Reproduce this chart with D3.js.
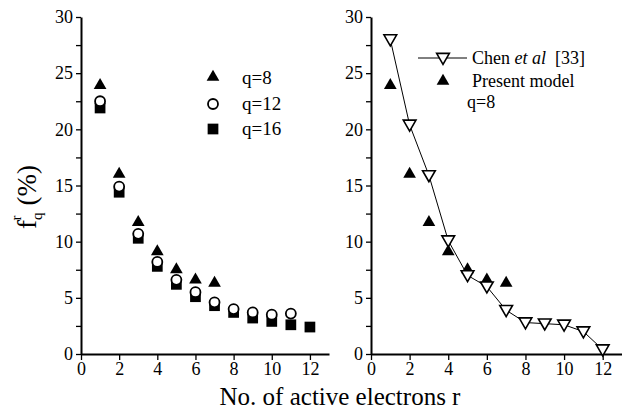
<!DOCTYPE html>
<html>
<head>
<meta charset="utf-8">
<script src="https://cdn.jsdelivr.net/npm/d3@7"></script>
<style>
  body { margin: 0; background: #fff; }
  svg { display: block; }
</style>
</head>
<body>
<svg id="chart" width="622" height="414" font-family="Liberation Serif, serif"></svg>
<script>
// values
var r8 = [1, 2, 3, 4, 5, 6, 7]
var q8 = [24.0, 16.1, 11.8, 9.2, 7.6, 6.7, 6.4]
var r12 = [1, 2, 3, 4, 5, 6, 7, 8, 9, 10, 11]
var q12 = [22.5, 14.9, 10.7, 8.2, 6.6, 5.5, 4.6, 4.0, 3.7, 3.5, 3.6]
var r16 = [1, 2, 3, 4, 5, 6, 7, 8, 9, 10, 11, 12]
var q16 = [21.9, 14.4, 10.3, 7.8, 6.2, 5.1, 4.3, 3.7, 3.2, 2.9, 2.6, 2.4]
var rChen = [1, 2, 3, 4, 5, 6, 7, 8, 9, 10, 11, 12]
var chen = [28.0, 20.4, 15.9, 10.1, 7.0, 6.0, 3.9, 2.8, 2.7, 2.6, 2.0, 0.4]
var xTicks = [0, 2, 4, 6, 8, 10, 12]
var yTicks = [0, 5, 10, 15, 20, 25, 30]

var FONT = "Liberation Serif, serif"
var svg = d3.select("#chart")

var y = d3.scaleLinear().domain([0, 30]).range([354, 17])
var xL = d3.scaleLinear().domain([0, 13]).range([81, 329])
var xR = d3.scaleLinear().domain([0, 13]).range([371, 622])

var tri = d3.symbol().type(d3.symbolTriangle).size(70)
var sq = d3.symbol().type(d3.symbolSquare).size(115)

function zip(xs, ys) { return xs.map((v, i) => [v, ys[i]]) }

function drawAxes(x) {
  var g = svg.append("g")
  // y axis
  g.append("g")
    .attr("transform", `translate(${x(0)},0)`)
    .call(d3.axisLeft(y).tickValues(yTicks).tickSize(5).tickSizeOuter(0).tickPadding(3))
    .attr("font-family", FONT).attr("font-size", 18)
    .call(a => a.select(".domain").attr("stroke-width", 2))
  // minor y ticks
  g.append("g")
    .attr("transform", `translate(${x(0)},0)`)
    .call(d3.axisLeft(y).tickValues(d3.range(2.5, 30, 5)).tickSize(5).tickFormat(""))
    .call(a => a.select(".domain").remove())
  // x axis
  g.append("g")
    .attr("transform", `translate(0,${y(0)})`)
    .call(d3.axisBottom(x).tickValues(xTicks).tickSize(6).tickSizeOuter(0).tickPadding(2))
    .attr("font-family", FONT).attr("font-size", 18)
    .call(a => a.select(".domain").attr("stroke-width", 2))
  g.selectAll(".tick line").attr("stroke-width", 1.3)
}

drawAxes(xL)
drawAxes(xR)

// left panel
svg.append("g").selectAll("path").data(zip(r16, q16)).join("path")
  .attr("transform", d => `translate(${xL(d[0])},${y(d[1])})`)
  .attr("d", sq()).attr("fill", "#000")
svg.append("g").selectAll("circle").data(zip(r12, q12)).join("circle")
  .attr("cx", d => xL(d[0])).attr("cy", d => y(d[1])).attr("r", 5)
  .attr("fill", "#fff").attr("stroke", "#000").attr("stroke-width", 1.8)
svg.append("g").selectAll("path").data(zip(r8, q8)).join("path")
  .attr("transform", d => `translate(${xL(d[0])},${y(d[1]) + 1})`)
  .attr("d", tri()).attr("fill", "#000")

// left legend
var legL = svg.append("g")
legL.append("path").attr("transform", "translate(213,77)").attr("d", tri()).attr("fill", "#000")
legL.append("circle").attr("cx", 213).attr("cy", 104).attr("r", 5)
  .attr("fill", "#fff").attr("stroke", "#000").attr("stroke-width", 1.8)
legL.append("path").attr("transform", "translate(213,129)").attr("d", sq()).attr("fill", "#000")
legL.selectAll("text").data(["q=8", "q=12", "q=16"]).join("text")
  .attr("x", 242).attr("y", (d, i) => 84 + i * 25.5)
  .attr("font-size", 19).text(d => d)

// right panel
var line = d3.line().x(d => xR(d[0])).y(d => y(d[1]))
svg.append("path").datum(zip(rChen, chen))
  .attr("d", line).attr("fill", "none").attr("stroke", "#000").attr("stroke-width", 1)
svg.append("g").selectAll("path").data(zip(r8, q8)).join("path")
  .attr("transform", d => `translate(${xR(d[0])},${y(d[1]) + 1})`)
  .attr("d", tri()).attr("fill", "#000")
svg.append("g").selectAll("path").data(zip(rChen, chen)).join("path")
  .attr("transform", d => `translate(${xR(d[0])},${y(d[1]) - 1}) rotate(180)`)
  .attr("d", tri()).attr("fill", "#fff").attr("stroke", "#000").attr("stroke-width", 1.6)

// right legend
var legR = svg.append("g")
legR.append("line").attr("x1", 418).attr("x2", 467).attr("y1", 58).attr("y2", 58)
  .attr("stroke", "#000").attr("stroke-width", 1)
legR.append("path").attr("transform", "translate(443,57) rotate(180)").attr("d", tri())
  .attr("fill", "#fff").attr("stroke", "#000").attr("stroke-width", 1.6)
legR.append("path").attr("transform", "translate(443,81)").attr("d", tri()).attr("fill", "#000")
var chenText = legR.append("text").attr("x", 472).attr("y", 64).attr("font-size", 18)
chenText.append("tspan").text("Chen ")
chenText.append("tspan").attr("font-style", "italic").text("et al")
chenText.append("tspan").attr("xml:space", "preserve").text("\u00a0 [33]")
legR.append("text").attr("x", 472).attr("y", 87).attr("font-size", 18).text("Present model")
legR.append("text").attr("x", 467).attr("y", 108).attr("font-size", 18).text("q=8")

// axis titles
svg.append("text").attr("x", 340).attr("y", 405).attr("text-anchor", "middle")
  .attr("font-size", 25).text("No. of active electrons r")

var yl = svg.append("text")
  .attr("transform", "translate(36,197) rotate(-90)")
  .attr("text-anchor", "middle").attr("font-size", 27)
yl.append("tspan").text("f")
yl.append("tspan").attr("font-size", 15).attr("dy", 6).text("q")
yl.append("tspan").attr("font-size", 15).attr("dx", -8).attr("dy", -21).text("r")
yl.append("tspan").attr("dy", 15).attr("dx", 10).text("(%)")
</script>
</body>
</html>
